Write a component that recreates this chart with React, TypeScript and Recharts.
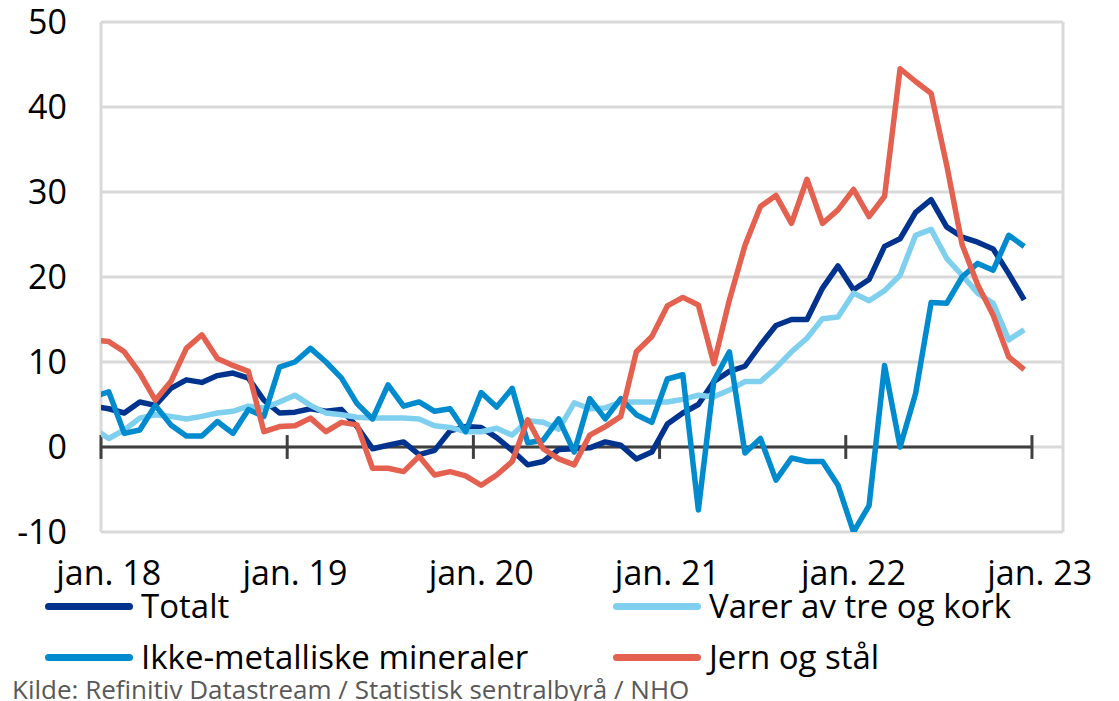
import { LineChart, Line, XAxis, YAxis, CartesianGrid, ReferenceLine, Legend } from "recharts";

// monthly values, des. 17 - des. 22
const totalt = [
  4.8, 4.5, 4.0, 5.3, 4.9, 6.9, 7.9, 7.6, 8.4, 8.7, 8.1, 5.5, 4.0,
  4.1, 4.5, 4.2, 4.4, 2.4, -0.2, 0.2, 0.6, -0.9, -0.4, 1.9, 2.4,
  2.3, 1.1, -0.4, -2.1, -1.7, -0.3, -0.2, -0.1, 0.6, 0.2, -1.4, -0.6,
  2.7, 4.0, 5.0, 7.7, 8.9, 9.5, 12.0, 14.3, 15.0, 15.0, 18.7, 21.3,
  18.5, 19.7, 23.6, 24.5, 27.6, 29.1, 25.9, 24.7, 24.1, 23.3, 20.4, 17.3,
];
const treOgKork = [
  2.2, 1.0, 2.0, 3.4, 3.8, 3.6, 3.3, 3.6, 4.0, 4.2, 4.8, 4.6, 5.3,
  6.1, 4.9, 4.0, 3.8, 3.5, 3.4, 3.4, 3.4, 3.3, 2.5, 2.3, 1.8,
  1.8, 2.2, 1.4, 3.1, 2.9, 2.1, 5.2, 4.5, 4.6, 5.3, 5.3, 5.3,
  5.3, 5.6, 6.1, 5.9, 6.7, 7.7, 7.7, 9.3, 11.2, 12.8, 15.1, 15.3,
  18.1, 17.2, 18.4, 20.2, 24.9, 25.6, 22.2, 20.2, 18.1, 16.9, 12.6, 13.8,
];
const mineraler = [
  5.9, 6.5, 1.6, 2.0, 4.9, 2.6, 1.3, 1.3, 3.0, 1.6, 4.4, 3.6, 9.4,
  10.0, 11.6, 10.0, 8.1, 5.1, 3.3, 7.3, 4.8, 5.3, 4.2, 4.5, 1.8,
  6.4, 4.7, 6.9, 0.5, 0.8, 3.3, -0.6, 5.7, 3.3, 5.7, 3.8, 2.9,
  8.0, 8.5, -7.4, 7.8, 11.2, -0.7, 1.0, -3.9, -1.3, -1.7, -1.7, -4.5,
  -10.0, -6.9, 9.6, 0.0, 6.3, 17.0, 16.9, 20.0, 21.6, 20.8, 24.9, 23.6,
];
const jernOgStaal = [
  12.6, 12.4, 11.2, 8.7, 5.5, 7.7, 11.6, 13.2, 10.4, 9.6, 8.9, 1.8, 2.4,
  2.5, 3.4, 1.8, 2.9, 2.6, -2.5, -2.5, -2.9, -1.1, -3.3, -2.9, -3.4,
  -4.5, -3.3, -1.7, 3.2, -0.2, -1.4, -2.1, 1.4, 2.4, 3.6, 11.2, 13.0,
  16.6, 17.6, 16.7, 9.8, 17.3, 23.7, 28.3, 29.6, 26.3, 31.5, 26.3, 27.9,
  30.3, 27.1, 29.5, 44.5, 43.0, 41.6, 33.2, 23.8, 19.1, 15.5, 10.6, 9.1,
];

const yearLabels = ["jan. 18", "jan. 19", "jan. 20", "jan. 21", "jan. 22", "jan. 23"];
const yTicks = [-10, 0, 10, 20, 30, 40, 50];

const series = [
  { key: "totalt", name: "Totalt", color: "#00338D" },
  { key: "tre", name: "Varer av tre og kork", color: "#7FCFEE" },
  { key: "mineraler", name: "Ikke-metalliske mineraler", color: "#008BCE" },
  { key: "jern", name: "Jern og stål", color: "#E4604F" },
];

// x = months since 1 jan 2018, points sit mid-month
const data = totalt.map((v, i) => ({
  x: i - 0.5,
  totalt: v,
  tre: treOgKork[i],
  mineraler: mineraler[i],
  jern: jernOgStaal[i],
}));

const font = "'Open Sans', 'Noto Sans', sans-serif";

function LegendBox() {
  const item = (s: (typeof series)[number], left: number, top: number) => (
    <div key={s.key} style={{ position: "absolute", left, top, display: "flex", alignItems: "center" }}>
      <div style={{ width: 88, height: 7, borderRadius: 4, background: s.color, marginRight: 8 }} />
      <span style={{ fontSize: 33, lineHeight: "30px", color: "#000" }}>{s.name}</span>
    </div>
  );
  return (
    <div style={{ position: "relative", width: 1111, height: 118, fontFamily: font }}>
      {item(series[0], 37, 8)}
      {item(series[1], 605, 8)}
      {item(series[2], 37, 59)}
      {item(series[3], 605, 59)}
      <div style={{ position: "absolute", left: 4, top: 94, fontSize: 26, lineHeight: "24px", color: "#595959", whiteSpace: "nowrap" }}>
        Kilde: Refinitiv Datastream / Statistisk sentralbyrå / NHO
      </div>
    </div>
  );
}

export default function App() {
  return (
    <div style={{ fontFamily: font }}>
      <LineChart
        width={1111}
        height={693}
        data={data}
        margin={{ top: 14, right: 56, bottom: 109, left: 0 }}
        style={{ overflow: "visible" }}
      >
        <CartesianGrid
          stroke="#D9D9D9"
          strokeWidth={3}
          verticalCoordinatesGenerator={({ offset }: any) => [offset.left, offset.left + offset.width]}
        />
        <XAxis
          type="number"
          dataKey="x"
          domain={[0, 62]}
          allowDataOverflow
          ticks={[0.5, 12.5, 24.5, 36.5, 48.5, 60.5]}
          tickFormatter={(v: number) => yearLabels[Math.round((v - 0.5) / 12)]}
          axisLine={false}
          tickLine={false}
          tickSize={0}
          tickMargin={29}
          height={60}
          interval={0}
          tick={{ fontSize: 34, fill: "#000", fontFamily: font }}
        />
        <YAxis
          domain={[-10, 50]}
          ticks={yTicks}
          allowDataOverflow
          width={93}
          axisLine={false}
          tickLine={false}
          tickSize={0}
          tickMargin={34}
          interval={0}
          tick={{ fontSize: 34, fill: "#000", fontFamily: font }}
        />
        <ReferenceLine segment={[{ x: 0, y: 0 }, { x: 60, y: 0 }]} stroke="#404040" strokeWidth={3} />
        {[0, 12, 24, 36, 48, 60].map((t) => (
          <ReferenceLine key={t} segment={[{ x: t, y: -1.4 }, { x: t, y: 1.4 }]} stroke="#404040" strokeWidth={3} />
        ))}
        {series.map((s) => (
          <Line
            key={s.key}
            type="linear"
            dataKey={s.key}
            name={s.name}
            stroke={s.color}
            strokeWidth={5.5}
            strokeLinejoin="round"
            dot={false}
            isAnimationActive={false}
          />
        ))}
        <Legend
          verticalAlign="middle"
          align="center"
          layout="horizontal"
          wrapperStyle={{ left: 0, top: 575, width: 1111, height: 118 }}
          content={() => <LegendBox />}
        />
      </LineChart>
    </div>
  );
}
